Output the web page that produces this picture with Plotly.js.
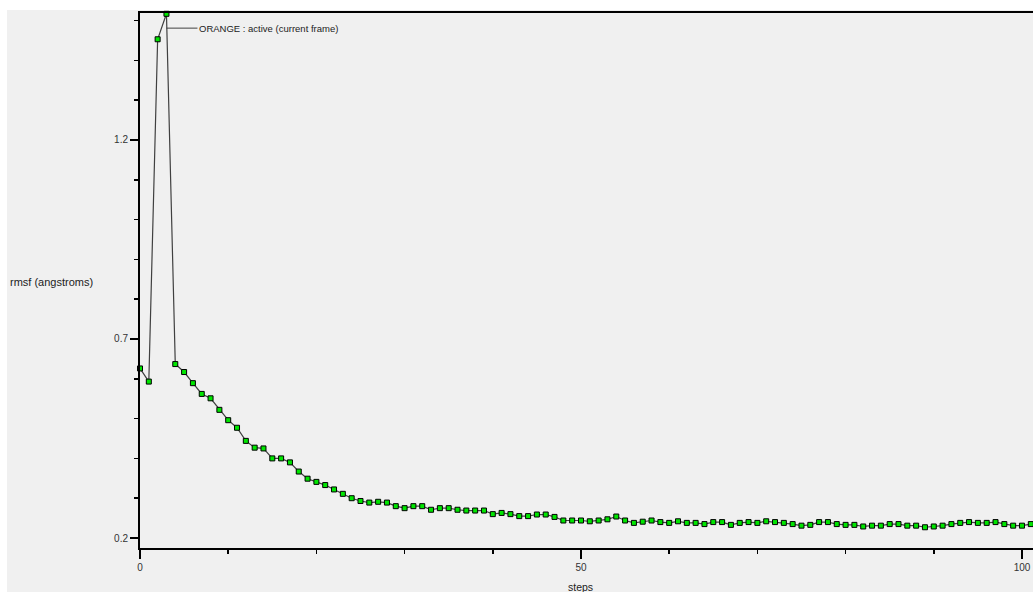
<!DOCTYPE html>
<html>
<head>
<meta charset="utf-8">
<script src="https://cdn.plot.ly/plotly-3.0.1.min.js"></script>
<style>
  html, body { margin: 0; padding: 0; background: #ffffff; width: 1033px; height: 592px; overflow: hidden; }
  #chart { position: absolute; left: 7px; top: 10px; width: 1026px; height: 582px; }
</style>
</head>
<body>
<div id="chart"></div>
<script>
const steps = [];
for (let i = 0; i <= 101; i++) steps.push(i);

const rmsf = [
  0.626, 0.593, 1.453, 1.517, 0.637, 0.617, 0.589, 0.562, 0.551, 0.522,
  0.496, 0.477, 0.444, 0.427, 0.425, 0.400, 0.400, 0.390, 0.367, 0.349,
  0.341, 0.333, 0.322, 0.311, 0.300, 0.293, 0.289, 0.291, 0.289, 0.280,
  0.275, 0.280, 0.280, 0.271, 0.275, 0.275, 0.271, 0.269, 0.269, 0.269,
  0.260, 0.263, 0.260, 0.255, 0.255, 0.259, 0.259, 0.253, 0.244, 0.244,
  0.244, 0.242, 0.244, 0.247, 0.254, 0.244, 0.238, 0.241, 0.244, 0.240,
  0.238, 0.242, 0.238, 0.238, 0.235, 0.240, 0.240, 0.233, 0.238, 0.240,
  0.238, 0.242, 0.240, 0.238, 0.235, 0.231, 0.233, 0.240, 0.240, 0.235,
  0.233, 0.233, 0.229, 0.231, 0.231, 0.235, 0.235, 0.231, 0.231, 0.227,
  0.229, 0.231, 0.235, 0.238, 0.240, 0.238, 0.238, 0.240, 0.235, 0.231,
  0.231, 0.235
];

const yTickVals = [0.2, 0.7, 1.2];
const xTickVals = [0, 50, 100];
const labelText = 'ORANGE : active (current frame)';
const yTitle = 'rmsf (angstroms)';
const xTitle = 'steps';

const font = 'Liberation Sans, Arial, sans-serif';

const trace = {
  x: steps,
  y: rmsf,
  type: 'scatter',
  mode: 'lines+markers',
  line: { color: '#404040', width: 1.2 },
  marker: { symbol: 'square', size: 5, color: '#00e600', line: { color: '#000000', width: 1 } },
  cliponaxis: false,
  hoverinfo: 'x+y'
};

const layout = {
  width: 1026,
  height: 582,
  margin: { l: 133, r: 0, t: 3, b: 44, pad: 0 },
  paper_bgcolor: '#f0f0f0',
  plot_bgcolor: '#f0f0f0',
  showlegend: false,
  font: { family: font, size: 10, color: '#333333' },
  xaxis: {
    range: [0, 101.25],
    showgrid: false,
    zeroline: false,
    showline: true,
    linecolor: '#000000',
    linewidth: 2,
    mirror: true,
    ticks: 'outside',
    tickmode: 'array',
    tickvals: xTickVals,
    ticklen: 9,
    tickwidth: 1.5,
    tickcolor: '#000000',
    tickfont: { family: font, size: 10, color: '#333333' },
    minor: { tick0: 0, dtick: 10, ticks: 'outside', ticklen: 4, tickwidth: 1.5, tickcolor: '#000000', showgrid: false },
    fixedrange: true
  },
  yaxis: {
    range: [0.1749, 1.519],
    showgrid: false,
    zeroline: false,
    showline: true,
    linecolor: '#000000',
    linewidth: 2,
    ticks: 'outside',
    tickmode: 'array',
    tickvals: yTickVals,
    ticktext: yTickVals.map(v => v.toFixed(1)),
    ticklen: 8,
    tickwidth: 1.5,
    tickcolor: '#000000',
    tickfont: { family: font, size: 10, color: '#333333' },
    minor: { tick0: 0.2, dtick: 0.1, ticks: 'outside', ticklen: 4, tickwidth: 1.5, tickcolor: '#000000', showgrid: false },
    fixedrange: true
  },
  annotations: [
    {
      x: 3, y: 1.481, xref: 'x', yref: 'y',
      text: labelText,
      showarrow: true, arrowhead: 0, arrowwidth: 1, arrowcolor: '#404040',
      ax: 31, ay: 0, xanchor: 'left', yanchor: 'middle',
      font: { family: font, size: 9.5, color: '#222222' }
    },
    {
      x: -0.1478, y: 0.497, xref: 'paper', yref: 'paper',
      text: yTitle, showarrow: false, xanchor: 'left', yanchor: 'middle',
      font: { family: font, size: 11, color: '#222222' }
    },
    {
      x: 50, y: -0.072, xref: 'x', yref: 'paper',
      text: xTitle, showarrow: false, xanchor: 'center', yanchor: 'middle',
      font: { family: font, size: 10.5, color: '#222222' }
    }
  ]
};

Plotly.newPlot('chart', [trace], layout, { displayModeBar: false, staticPlot: true });
</script>
</body>
</html>
